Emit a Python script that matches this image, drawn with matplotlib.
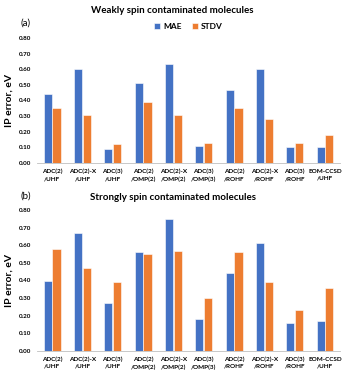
import matplotlib.pyplot as plt
import numpy as np

plt.rcParams["font.family"] = ["Lato", "DejaVu Sans"]

methods = ["ADC(2)\n/UHF", "ADC(2)-X\n/UHF", "ADC(3)\n/UHF", "ADC(2)\n/OMP(2)",
           "ADC(2)-X\n/OMP(2)", "ADC(3)\n/OMP(3)", "ADC(2)\n/ROHF", "ADC(2)-X\n/ROHF",
           "ADC(3)\n/ROHF", "EOM-CCSD\n/UHF"]

weak_mae = [0.44, 0.60, 0.09, 0.51, 0.63, 0.11, 0.47, 0.60, 0.10, 0.10]
weak_stdv = [0.35, 0.31, 0.12, 0.39, 0.31, 0.13, 0.35, 0.28, 0.13, 0.18]

strong_mae = [0.40, 0.67, 0.27, 0.56, 0.75, 0.18, 0.44, 0.61, 0.16, 0.17]
strong_stdv = [0.58, 0.47, 0.39, 0.55, 0.57, 0.30, 0.56, 0.39, 0.23, 0.36]

blue = "#4472C4"
orange = "#ED7D31"

fig = plt.figure(figsize=(3.45, 3.75), dpi=100)
ax1 = fig.add_axes([0.107, 0.565, 0.879, 0.334])
ax2 = fig.add_axes([0.107, 0.064, 0.879, 0.376])

x = np.arange(len(methods))
w = 0.27


def draw(ax, mae, stdv):
    ax.bar(x - w / 2 - 0.01, mae, w, color=blue, edgecolor="white", linewidth=0.4, label="MAE")
    ax.bar(x + w / 2 + 0.01, stdv, w, color=orange, edgecolor="white", linewidth=0.4, label="STDV")
    ax.set_ylim(0, 0.8)
    ax.set_xlim(-0.5, len(methods) - 0.5)
    ax.set_yticks(np.arange(0, 0.81, 0.1))
    ax.set_yticklabels([f"{v:.2f}" for v in np.arange(0, 0.81, 0.1)], fontsize=4.5, fontweight="bold")
    ax.set_xticks(x)
    ax.set_xticklabels(methods, fontsize=4.6, fontweight="bold", linespacing=1.5)
    ax.tick_params(length=0, pad=4)
    for s in ["top", "right", "left"]:
        ax.spines[s].set_visible(False)
    ax.spines["bottom"].set_color("#bfbfbf")
    ax.spines["bottom"].set_linewidth(0.6)
    ax.set_ylabel("IP error, eV", fontsize=7.5, fontweight="bold", labelpad=4)


draw(ax1, weak_mae, weak_stdv)
draw(ax2, strong_mae, strong_stdv)

fig.text(0.5, 0.972, "Weakly spin contaminated molecules", ha="center", va="center",
         fontsize=7, fontweight="bold")
fig.text(0.058, 0.938, "(a)", ha="left", va="center", fontsize=7)
fig.text(0.5, 0.472, "Strongly spin contaminated molecules", ha="center", va="center",
         fontsize=7, fontweight="bold")
fig.text(0.058, 0.478, "(b)", ha="left", va="center", fontsize=7)

ax1.legend(loc="center", bbox_to_anchor=(0.5, 1.09), ncol=2, frameon=False,
           handlelength=0.7, handleheight=0.7, columnspacing=1.2, handletextpad=0.4,
           prop={"weight": "bold", "size": 6})

fig.savefig("out.png", dpi=100)
